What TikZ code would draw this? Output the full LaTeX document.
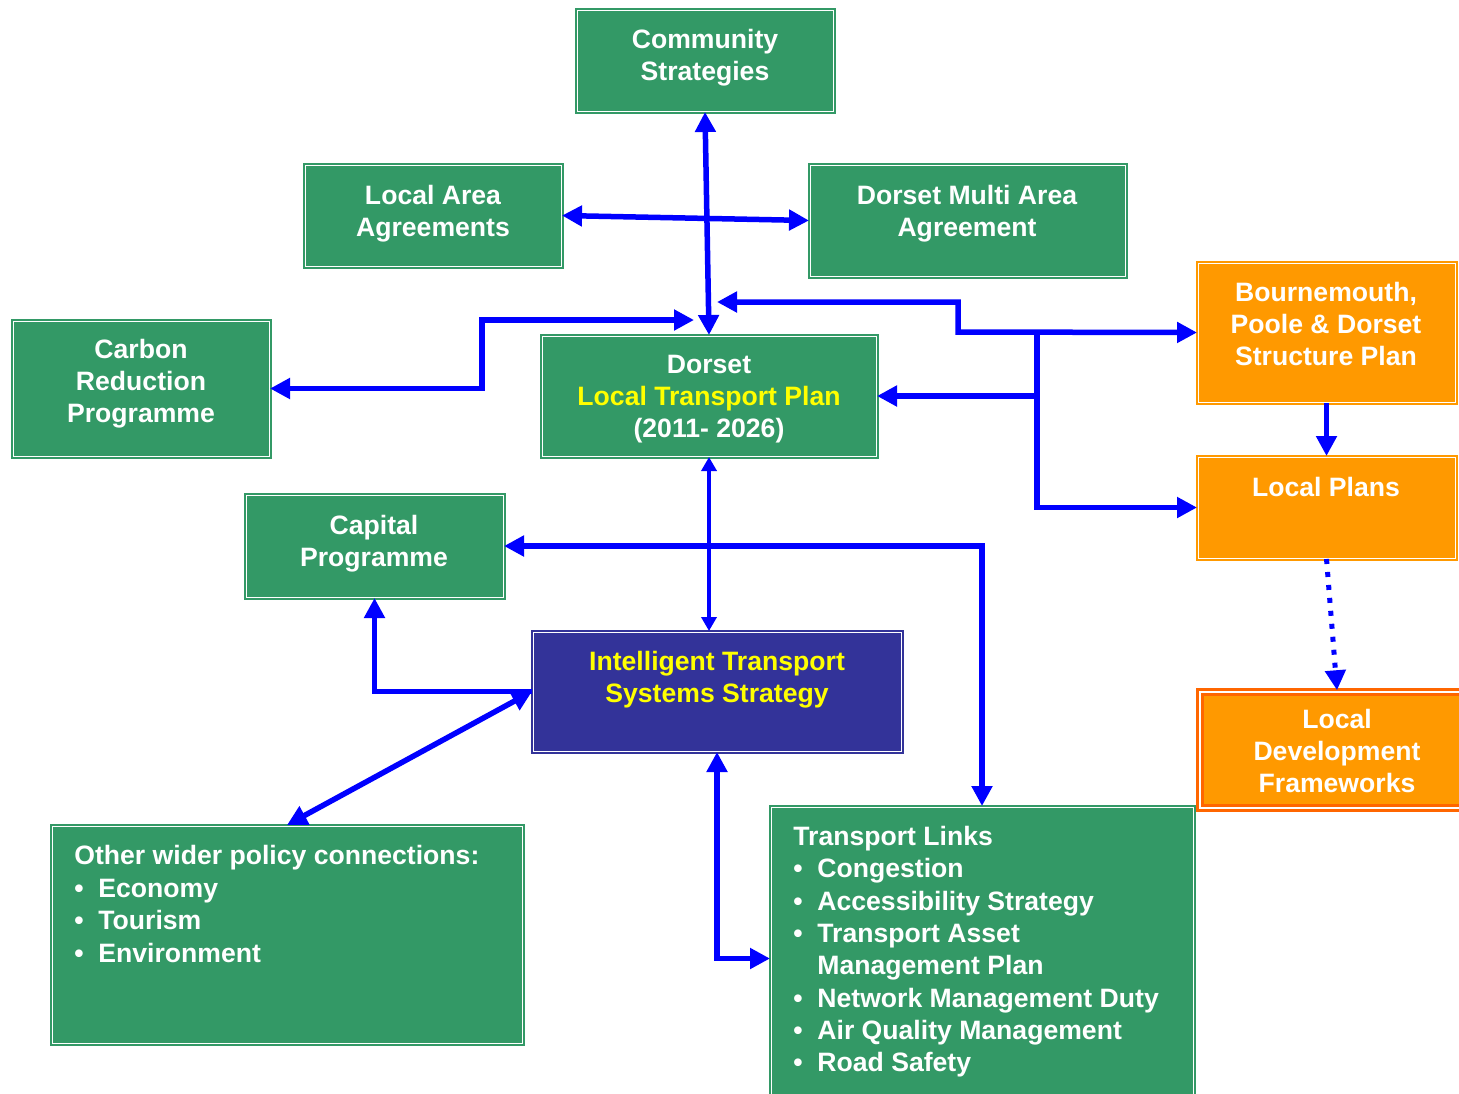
\documentclass[tikz,border=0pt]{standalone}
\usepackage{fontspec}
\setmainfont{Liberation Sans}
\usetikzlibrary{arrows.meta,fit}
\definecolor{grn}{HTML}{339966}
\definecolor{itsblue}{HTML}{333399}
\definecolor{org}{HTML}{FF9900}
\definecolor{orgdark}{HTML}{FF6600}
\definecolor{ylw}{HTML}{FFFF00}
\definecolor{arrblue}{HTML}{0000FF}
\newcommand\bul{\makebox[12pt][l]{\textbullet}}
\newcommand\bulskip{\hspace*{12pt}}
\begin{document}
\begin{tikzpicture}[x=0.5pt,y=-0.5pt,
  box/.style={rectangle, draw=#1, fill=#1, double=white, line width=1pt, double distance=0.5pt, inner sep=0pt},
  gbox/.style={box=grn},
  obox/.style={box=org},
  ldfbox/.style={rectangle, draw=orgdark, fill=org, double=white, line width=1.75pt, double distance=0.6pt, inner sep=0pt},
  itsbox/.style={box=itsblue},
  txt/.style={text=white, font=\bfseries\fontsize{13.3pt}{16pt}\selectfont, align=center, inner sep=0pt},
  ltxt/.style={txt, align=left, anchor=north west, font=\bfseries\fontsize{13.3pt}{16.3pt}\selectfont},
  arr/.style={draw=arrblue, line width=2.75pt, >={Triangle[length=10pt,width=10pt]}},
  thinarr/.style={draw=arrblue, line width=1.75pt, >={Triangle[length=7pt,width=7.5pt]}},
  dotarr/.style={draw=arrblue, line width=2.5pt, dash pattern=on 2.5pt off 4pt, >={Triangle[length=10pt,width=10pt]}}
]
\useasboundingbox (0,0) rectangle (1459,1093);
\fill[white] (0,0) rectangle (1459,1093);

% boxes
\node[gbox, fit={(577,10) (833,111)}] (cs) {};
\node[txt] (cs-t) at (705,58) {Community\\Strategies};

\node[gbox, fit={(305,165) (561,266)}] (laa) {};
\node[txt] (laa-t) at (433,214) {Local Area\\Agreements};

\node[gbox, fit={(810,165) (1125,276)}] (dma) {};
\node[txt] (dma-t) at (967,214) {Dorset Multi Area\\Agreement};

\node[gbox, fit={(13,321) (269,456)}] (crp) {};
\node[txt] (crp-t) at (141,384) {Carbon\\Reduction\\Programme};

\node[gbox, fit={(542,336) (876,456)}] (ltp) {};
\node[txt] (ltp-t) at (709,399) {Dorset\\\textcolor{ylw}{Local Transport Plan}\\(2011- 2026)};

\node[obox, fit={(1198,263) (1455,402)}] (bps) {};
\node[txt] (bps-t) at (1326,324) {Bournemouth,\\Poole \& Dorset\\Structure Plan};

\node[obox, fit={(1198,457) (1455,558)}] (lp) {};
\node[txt] (lp-t) at (1326,487) {Local Plans};

\node[ldfbox, fit={(1200,692) (1474,808)}] (ldf) {};
\node[txt] (ldf-t) at (1337,751) {Local\\Development\\Frameworks};

\node[gbox, fit={(246,495) (503,597)}] (cap) {};
\node[txt] (cap-t) at (374,544) {Capital\\Programme};

\node[itsbox, fit={(533,632) (901,751)}] (its) {};
\node[txt, text=ylw] (its-t) at (717,680) {Intelligent Transport\\Systems Strategy};

\node[gbox, fit={(52,826) (522,1043)}] (owp) {};
\node[ltxt] (owp-t) at (74,845) {Other wider policy connections:\\\bul Economy\\\bul Tourism\\\bul Environment};

\node[gbox, fit={(771,807) (1193,1110)}] (tl) {};
\node[ltxt, font=\bfseries\fontsize{13.3pt}{16.15pt}\selectfont] (tl-t) at (793,826) {Transport Links\\\bul Congestion\\\bul Accessibility Strategy\\\bul Transport Asset\\\bulskip Management Plan\\\bul Network Management Duty\\\bul Air Quality Management\\\bul Road Safety};

% free connector ends and bends
\coordinate (crpturn) at (482,320);
\coordinate (crpend) at (694,320);
\coordinate (ltpin) at (717,302);
\coordinate (step) at (958,332);
\coordinate (jx) at (1037,332);

% connectors
\draw[arr,<->] (cs.south) -- (ltp.north);
\draw[arr,<->] (laa.east) -- (dma.west);
\draw[arr,<->] (crp.east) -| (crpturn) -- (crpend);
\draw[arr,<->] (ltpin) -| (step) -- (bps.west);
\draw[arr,->] (jx) |- (lp.west);
\draw[arr,->] (jx |- ltp.east) -- (ltp.east);
\draw[arr,->] (bps.south) -- (lp.north);
\draw[dotarr,->] (lp.south) -- (ldf.north);
\draw[thinarr,<->] (ltp.south) -- (ltp.south |- its.north);
\draw[arr,<->] (cap.east) -| (tl.north);
\draw[arr,->] (its.west) -| (cap.south);
\draw[arr,<->] (its.west) -- (owp.north);
\draw[arr,<->] (its.south) |- (tl.west);
\end{tikzpicture}
\end{document}
